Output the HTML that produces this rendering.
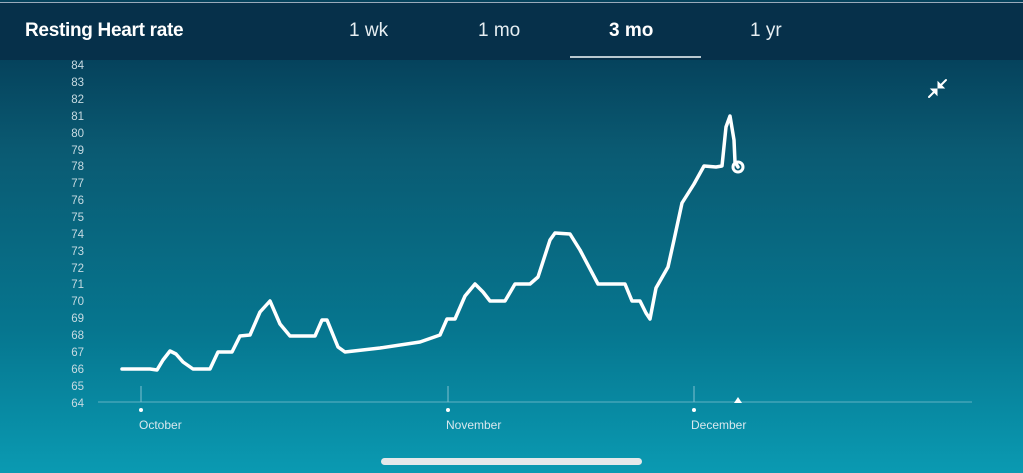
<!DOCTYPE html>
<html><head><meta charset="utf-8"><style>
html,body{margin:0;padding:0;width:1023px;height:473px;overflow:hidden;font-family:"Liberation Sans",sans-serif}
.bg{position:absolute;left:0;top:0;width:1023px;height:473px;background:linear-gradient(#05425c 58px,#0a5a72 150px,#06768f 330px,#0a9ab2 473px)}
.hd{position:absolute;left:0;top:2px;width:1023px;height:57px;background:#06304a;border-top:1px solid #9ab}
.t{position:absolute;color:#fff;font-size:19px;top:20px}
</style></head><body>
<div class="bg"></div>
<div class="hd"></div>
<div class="t" style="left:25px;font-weight:bold;letter-spacing:-0.3px">Resting Heart rate</div>
<div class="t" style="left:349px;color:#e6eef2">1 wk</div>
<div class="t" style="left:478px;color:#e6eef2">1 mo</div>
<div class="t" style="left:609px;font-weight:bold">3 mo</div>
<div class="t" style="left:750px;color:#e6eef2">1 yr</div>
<div style="position:absolute;left:570px;top:56px;width:131px;height:2px;background:#b8c8d0"></div>
<svg width="1023" height="473" style="position:absolute;left:0;top:0">
<g fill="#c8dbe2" font-size="11.5" text-anchor="end" font-family="Liberation Sans">
<text x="84" y="69">84</text><text x="84" y="86">83</text><text x="84" y="103">82</text><text x="84" y="120">81</text><text x="84" y="137">80</text><text x="84" y="154">79</text><text x="84" y="170">78</text><text x="84" y="187">77</text><text x="84" y="204">76</text><text x="84" y="221">75</text><text x="84" y="238">74</text><text x="84" y="255">73</text><text x="84" y="272">72</text><text x="84" y="288">71</text><text x="84" y="305">70</text><text x="84" y="322">69</text><text x="84" y="339">68</text><text x="84" y="356">67</text><text x="84" y="373">66</text><text x="84" y="390">65</text><text x="84" y="407">64</text>
</g>
<line x1="98" y1="402" x2="972" y2="402" stroke="#5fb2c4" stroke-width="1"/>
<g stroke="#7fc0cf" stroke-width="1"><line x1="141" y1="386" x2="141" y2="402"/><line x1="448" y1="386" x2="448" y2="402"/><line x1="694" y1="386" x2="694" y2="402"/></g>
<g fill="#fff"><circle cx="141" cy="410" r="2"/><circle cx="448" cy="410" r="2"/><circle cx="694" cy="410" r="2"/><polygon points="734,403 738,397 742,403"/></g>
<g fill="#d8e8ee" font-size="12" font-family="Liberation Sans"><text x="139" y="429">October</text><text x="446" y="429">November</text><text x="691" y="429">December</text></g>
<polyline fill="none" stroke="#fff" stroke-width="3.5" stroke-linejoin="round" stroke-linecap="round" points="122,369 150,369 157,370 163,360 170,351 176,354 183,362 193,369 205,369 210,369 218,352 232,352 240,336 250,335 260,312 270,301 280,324 290,336 305,336 315,336 322,320 327,320 338,347 345,352 380,348 420,342 440,335 447,319 455,319 465,296 475,284 483,292 490,301 505,301 515,284 530,284 538,277 550,240 555,233 570,234 580,250 598,284 625,284 632,301 640,301 646,313 650,319 656,288 668,267 674,240 682,203 694,184 704,166 716,167 722,166 726,127 730,116 734,140 735,162 738,167"/>
<circle cx="738" cy="167" r="5" fill="none" stroke="#fff" stroke-width="3"/>
<g stroke="#fff" stroke-width="2" stroke-linecap="round" fill="#fff">
<line x1="929" y1="97" x2="935" y2="91"/><polygon points="937,89 937,95 931,89" stroke-width="1"/>
<line x1="946" y1="80" x2="940" y2="86"/><polygon points="938,88 938,82 944,88" stroke-width="1"/>
</g>
</svg>
<div style="position:absolute;left:381px;top:458px;width:261px;height:7px;border-radius:4px;background:#e4e8ea"></div>
</body></html>
